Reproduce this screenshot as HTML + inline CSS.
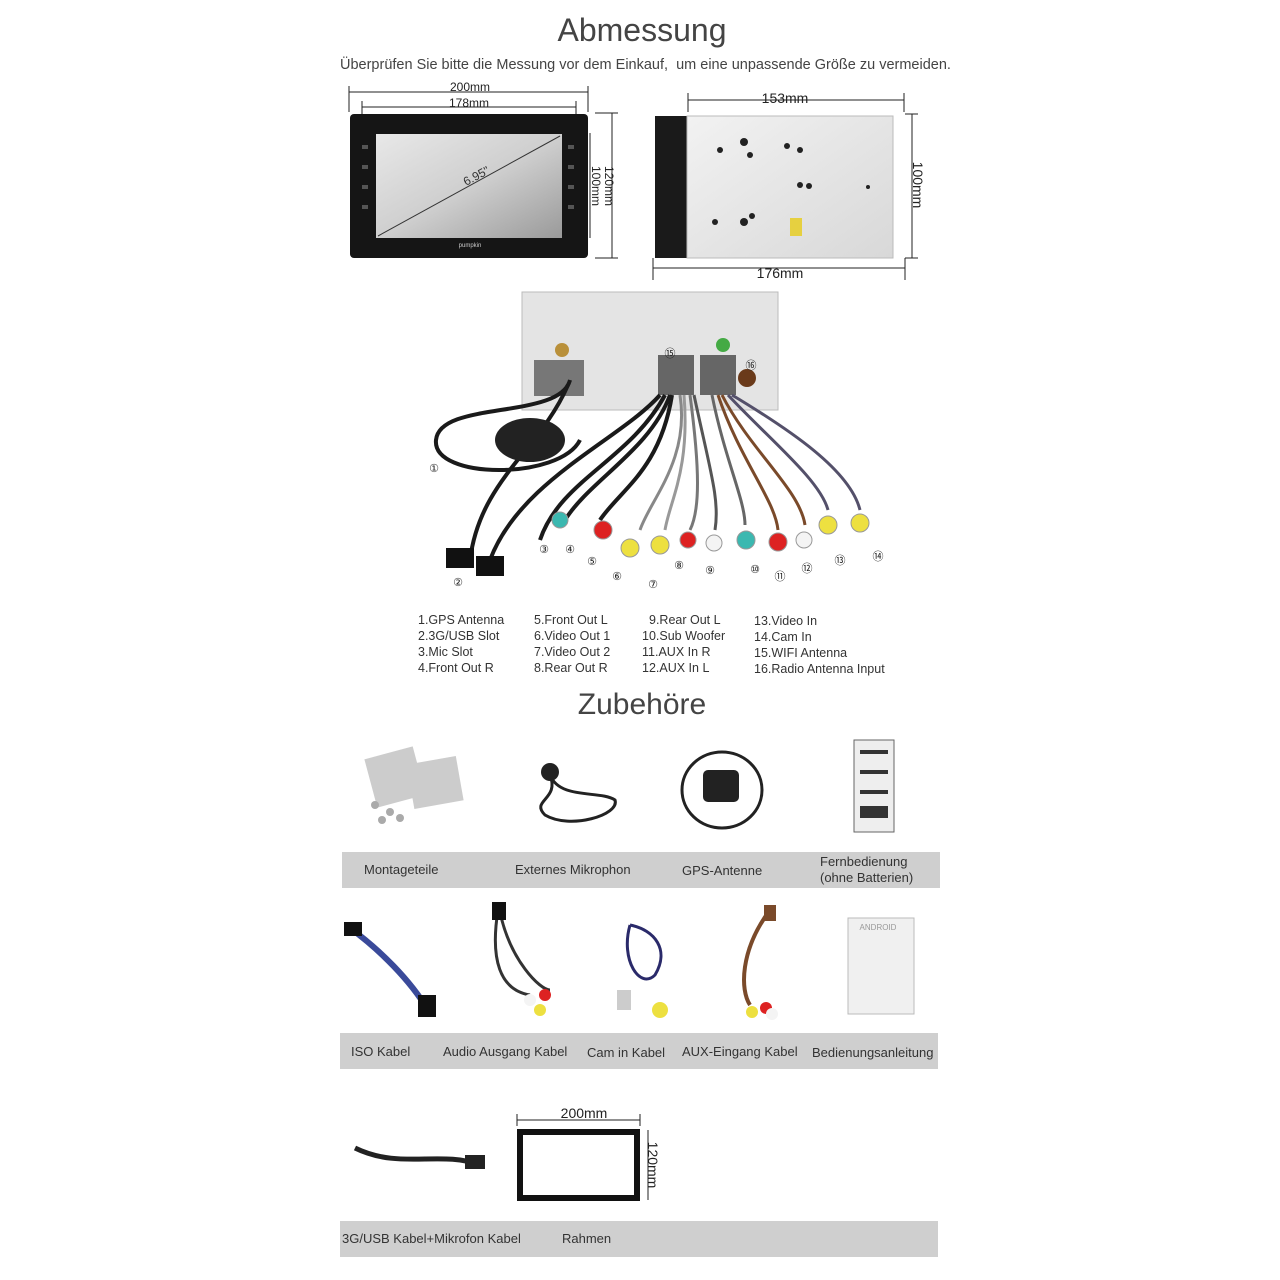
<!DOCTYPE html>
<html><head><meta charset="utf-8"><style>
html,body{margin:0;padding:0;background:#fff;}
body{width:1280px;height:1280px;position:relative;overflow:hidden;font-family:"Liberation Sans",sans-serif;color:#333;}
.t{position:absolute;white-space:nowrap;}
.bar{position:absolute;background:#cfcfcf;}
</style></head><body>
<div class="t" style="left:0;width:1284px;text-align:center;top:12px;font-size:32px;color:#444;">Abmessung</div>
<div class="t" style="left:340px;top:57px;font-size:14.5px;color:#444;">Überprüfen Sie bitte die Messung vor dem Einkauf,&nbsp; um eine unpassende Größe zu vermeiden.</div>

<svg width="1280" height="1280" style="position:absolute;left:0;top:0" xmlns="http://www.w3.org/2000/svg" font-family="Liberation Sans, sans-serif">
<defs>
<linearGradient id="scr" x1="0" y1="0" x2="1" y2="1"><stop offset="0" stop-color="#e8e8e8"/><stop offset="0.5" stop-color="#cfcfcf"/><stop offset="1" stop-color="#9a9a9a"/></linearGradient>
<linearGradient id="met" x1="0" y1="0" x2="1" y2="1"><stop offset="0" stop-color="#f2f2f2"/><stop offset="1" stop-color="#d8d8d8"/></linearGradient>
</defs>
<!-- left device -->
<g stroke="#222" stroke-width="1" fill="none">
<line x1="349" y1="92" x2="588" y2="92"/><line x1="349" y1="86" x2="349" y2="112"/><line x1="588" y1="86" x2="588" y2="112"/>
<line x1="362" y1="107" x2="576" y2="107"/><line x1="362" y1="101" x2="362" y2="118"/><line x1="576" y1="101" x2="576" y2="118"/>
<line x1="612" y1="113" x2="612" y2="258"/><line x1="595" y1="113" x2="618" y2="113"/><line x1="595" y1="258" x2="618" y2="258"/>
<line x1="590" y1="133" x2="590" y2="238"/>
</g>
<text x="470" y="91" font-size="12" text-anchor="middle" fill="#222">200mm</text>
<text x="469" y="107" font-size="12" text-anchor="middle" fill="#222">178mm</text>
<text transform="translate(605,186) rotate(90)" font-size="12" text-anchor="middle" fill="#222">120mm</text>
<text transform="translate(592,186) rotate(90)" font-size="12" text-anchor="middle" fill="#222">100mm</text>
<rect x="350" y="114" width="238" height="144" rx="4" fill="#151515"/>
<rect x="376" y="134" width="186" height="104" fill="url(#scr)"/>
<line x1="378" y1="236" x2="560" y2="136" stroke="#333" stroke-width="1"/>
<text transform="translate(466,186) rotate(-28)" font-size="12" fill="#333">6.95"</text>
<text x="470" y="247" font-size="6" fill="#ccc" text-anchor="middle">pumpkin</text>
<g fill="#555"><rect x="362" y="145" width="6" height="4"/><rect x="362" y="165" width="6" height="4"/><rect x="362" y="185" width="6" height="4"/><rect x="362" y="205" width="6" height="4"/><rect x="568" y="145" width="6" height="4"/><rect x="568" y="165" width="6" height="4"/><rect x="568" y="185" width="6" height="4"/><rect x="568" y="205" width="6" height="4"/></g>
<!-- right device -->
<g stroke="#222" stroke-width="1" fill="none">
<line x1="688" y1="100" x2="904" y2="100"/><line x1="688" y1="93" x2="688" y2="112"/><line x1="904" y1="93" x2="904" y2="112"/>
<line x1="653" y1="268" x2="905" y2="268"/><line x1="653" y1="258" x2="653" y2="280"/><line x1="905" y1="258" x2="905" y2="280"/>
<line x1="912" y1="114" x2="912" y2="258"/><line x1="905" y1="114" x2="918" y2="114"/><line x1="905" y1="258" x2="918" y2="258"/>
</g>
<text x="785" y="103" font-size="14" text-anchor="middle" fill="#222">153mm</text>
<text x="780" y="278" font-size="14" text-anchor="middle" fill="#222">176mm</text>
<text transform="translate(913,185) rotate(90)" font-size="14" text-anchor="middle" fill="#222">100mm</text>
<rect x="655" y="116" width="32" height="142" fill="#1a1a1a"/>
<rect x="687" y="116" width="206" height="142" fill="url(#met)" stroke="#bbb"/>
<g fill="#222"><circle cx="720" cy="150" r="3"/><circle cx="744" cy="142" r="4"/><circle cx="750" cy="155" r="3"/><circle cx="787" cy="146" r="3"/><circle cx="800" cy="150" r="3"/><circle cx="800" cy="185" r="3"/><circle cx="809" cy="186" r="3"/><circle cx="715" cy="222" r="3"/><circle cx="744" cy="222" r="4"/><circle cx="752" cy="216" r="3"/><circle cx="868" cy="187" r="2"/></g>
<rect x="790" y="218" width="12" height="18" fill="#e6d040"/>
<!-- back connector panel -->
<rect x="522" y="292" width="256" height="118" fill="#e4e4e4" stroke="#bbb"/>
<rect x="534" y="360" width="50" height="36" fill="#777"/>
<rect x="658" y="355" width="36" height="40" fill="#666"/>
<rect x="700" y="355" width="36" height="40" fill="#666"/>
<circle cx="747" cy="378" r="9" fill="#6a3a1a"/>
<circle cx="723" cy="345" r="7" fill="#4a4"/>
<circle cx="562" cy="350" r="7" fill="#b9903a"/>
<!-- cables -->
<g fill="none" stroke="#1a1a1a" stroke-width="4">
<path d="M570 380 C560 420 440 400 436 440 C432 480 560 480 580 440"/>
<path d="M568 385 C540 450 480 480 470 560"/>
<path d="M660 395 C620 440 520 480 490 560"/>
<path d="M665 395 C630 460 560 480 540 540"/>
<path d="M670 395 C650 450 590 480 565 520"/>
<path d="M672 395 C660 470 620 490 600 520"/>
</g>
<ellipse cx="530" cy="440" rx="35" ry="22" fill="#222"/>
<g fill="none" stroke-width="3">
<path d="M680 395 C690 460 650 500 640 530" stroke="#888"/>
<path d="M684 395 C690 470 670 500 665 530" stroke="#999"/>
<path d="M690 395 C700 470 700 510 690 530" stroke="#777"/>
<path d="M694 395 C710 470 720 500 715 530" stroke="#555"/>
<path d="M712 395 C725 460 745 500 745 525" stroke="#666"/>
<path d="M718 395 C740 460 775 500 778 530" stroke="#7a4a2a"/>
<path d="M722 395 C750 450 800 490 805 525" stroke="#7a4a2a"/>
<path d="M728 395 C770 440 820 480 828 510" stroke="#54506a"/>
<path d="M732 395 C790 430 850 470 860 510" stroke="#54506a"/>
</g>
<g stroke="#999" stroke-width="1">
<circle cx="560" cy="520" r="8" fill="#3bb8b0"/><circle cx="603" cy="530" r="9" fill="#d22"/><circle cx="630" cy="548" r="9" fill="#ede040"/><circle cx="660" cy="545" r="9" fill="#ede040"/><circle cx="688" cy="540" r="8" fill="#d22"/><circle cx="714" cy="543" r="8" fill="#f4f4f4"/><circle cx="746" cy="540" r="9" fill="#3bb8b0"/><circle cx="778" cy="542" r="9" fill="#d22"/><circle cx="804" cy="540" r="8" fill="#f4f4f4"/><circle cx="828" cy="525" r="9" fill="#ede040"/><circle cx="860" cy="523" r="9" fill="#ede040"/>
</g>
<rect x="446" y="548" width="28" height="20" fill="#111"/><rect x="476" y="556" width="28" height="20" fill="#111"/>
<g font-size="11" fill="#222" text-anchor="middle">
<text x="434" y="472">①</text><text x="458" y="586">②</text><text x="544" y="553">③</text><text x="570" y="553">④</text><text x="592" y="565">⑤</text><text x="617" y="580">⑥</text><text x="653" y="588">⑦</text><text x="679" y="569">⑧</text><text x="710" y="574">⑨</text><text x="755" y="573">⑩</text><text x="780" y="580">⑪</text><text x="807" y="572">⑫</text><text x="840" y="564">⑬</text><text x="878" y="560">⑭</text><text x="670" y="357">⑮</text><text x="751" y="369">⑯</text>
</g>
<!-- legend -->
<g font-size="12.5" fill="#333">
<text x="418" y="624">1.GPS Antenna</text><text x="418" y="640">2.3G/USB Slot</text><text x="418" y="656">3.Mic Slot</text><text x="418" y="672">4.Front Out R</text>
<text x="534" y="624">5.Front Out L</text><text x="534" y="640">6.Video Out 1</text><text x="534" y="656">7.Video Out 2</text><text x="534" y="672">8.Rear Out R</text>
<text x="649" y="624">9.Rear Out L</text><text x="642" y="640">10.Sub Woofer</text><text x="642" y="656">11.AUX In R</text><text x="642" y="672">12.AUX In L</text>
<text x="754" y="625">13.Video In</text><text x="754" y="641">14.Cam In</text><text x="754" y="657">15.WIFI Antenna</text><text x="754" y="673">16.Radio Antenna Input</text>
</g>
<!-- accessories images -->
<g fill="#ccc"><rect x="370" y="752" width="50" height="50" transform="rotate(-15 395 777)"/><rect x="410" y="760" width="50" height="45" transform="rotate(-10 435 782)"/></g>
<g fill="#aaa"><circle cx="375" cy="805" r="4"/><circle cx="390" cy="812" r="4"/><circle cx="382" cy="820" r="4"/><circle cx="400" cy="818" r="4"/></g>
<path d="M550 775 C560 800 530 800 545 815 C570 830 620 815 615 800 C600 790 560 800 550 775" fill="none" stroke="#222" stroke-width="3"/>
<circle cx="550" cy="772" r="9" fill="#222"/>
<ellipse cx="722" cy="790" rx="40" ry="38" fill="none" stroke="#222" stroke-width="3"/>
<rect x="703" y="770" width="36" height="32" rx="5" fill="#222"/>
<rect x="854" y="740" width="40" height="92" fill="#eee" stroke="#666"/>
<g fill="#333"><rect x="860" y="750" width="28" height="4"/><rect x="860" y="770" width="28" height="4"/><rect x="860" y="790" width="28" height="4"/><rect x="860" y="806" width="28" height="12"/></g>
<path d="M350 928 C380 950 410 980 428 1010" stroke="#3a4a9a" stroke-width="6" fill="none"/>
<rect x="418" y="995" width="18" height="22" fill="#111"/><rect x="344" y="922" width="18" height="14" fill="#111"/>
<path d="M498 910 C490 960 500 990 530 995 M500 912 C510 960 540 990 550 990" stroke="#333" stroke-width="3" fill="none"/>
<rect x="492" y="902" width="14" height="18" fill="#111"/>
<g><circle cx="530" cy="1000" r="6" fill="#f4f4f4"/><circle cx="545" cy="995" r="6" fill="#d22"/><circle cx="540" cy="1010" r="6" fill="#ede040"/></g>
<path d="M630 925 C620 960 640 990 655 975 C670 950 655 930 630 925" stroke="#2a2a6a" stroke-width="3" fill="none"/>
<rect x="617" y="990" width="14" height="20" fill="#ccc"/><circle cx="660" cy="1010" r="8" fill="#ede040"/>
<path d="M770 910 C740 950 740 990 750 1005" stroke="#7a4a2a" stroke-width="4" fill="none"/>
<rect x="764" y="905" width="12" height="16" fill="#7a4a2a"/>
<circle cx="752" cy="1012" r="6" fill="#ede040"/><circle cx="766" cy="1008" r="6" fill="#d22"/><circle cx="772" cy="1014" r="6" fill="#f4f4f4"/>
<rect x="848" y="918" width="66" height="96" fill="#f0f0f0" stroke="#bbb"/>
<text x="878" y="930" font-size="8" fill="#999" text-anchor="middle">ANDROID</text>
<path d="M355 1148 C400 1170 440 1150 480 1165" stroke="#222" stroke-width="5" fill="none"/>
<rect x="465" y="1155" width="20" height="14" fill="#222"/>
<rect x="520" y="1132" width="117" height="66" fill="none" stroke="#111" stroke-width="6"/>
<line x1="517" y1="1120" x2="640" y2="1120" stroke="#222"/><line x1="517" y1="1114" x2="517" y2="1126" stroke="#222"/><line x1="640" y1="1114" x2="640" y2="1126" stroke="#222"/>
<line x1="648" y1="1130" x2="648" y2="1200" stroke="#222"/>
<text x="584" y="1118" font-size="14" text-anchor="middle" fill="#222">200mm</text>
<text transform="translate(648,1165) rotate(90)" font-size="14" text-anchor="middle" fill="#222">120mm</text>
</svg>

<div class="t" style="left:0;width:1284px;text-align:center;top:688px;font-size:30px;color:#444;">Zubehöre</div>
<div class="bar" style="left:342px;top:852px;width:598px;height:36px;"></div>
<div class="bar" style="left:340px;top:1033px;width:598px;height:36px;"></div>
<div class="bar" style="left:340px;top:1221px;width:598px;height:36px;"></div>
<div class="t" style="left:364px;top:862px;font-size:13px;">Montageteile</div>
<div class="t" style="left:515px;top:862px;font-size:13px;">Externes Mikrophon</div>
<div class="t" style="left:682px;top:863px;font-size:13px;">GPS-Antenne</div>
<div class="t" style="left:820px;top:854px;font-size:13px;line-height:16px;">Fernbedienung<br>(ohne Batterien)</div>
<div class="t" style="left:351px;top:1044px;font-size:13px;">ISO Kabel</div>
<div class="t" style="left:443px;top:1044px;font-size:13px;">Audio Ausgang Kabel</div>
<div class="t" style="left:587px;top:1045px;font-size:13px;">Cam in Kabel</div>
<div class="t" style="left:682px;top:1044px;font-size:13px;">AUX-Eingang Kabel</div>
<div class="t" style="left:812px;top:1045px;font-size:13px;">Bedienungsanleitung</div>
<div class="t" style="left:342px;top:1231px;font-size:13px;">3G/USB Kabel+Mikrofon Kabel</div>
<div class="t" style="left:562px;top:1231px;font-size:13px;">Rahmen</div>
</body></html>
